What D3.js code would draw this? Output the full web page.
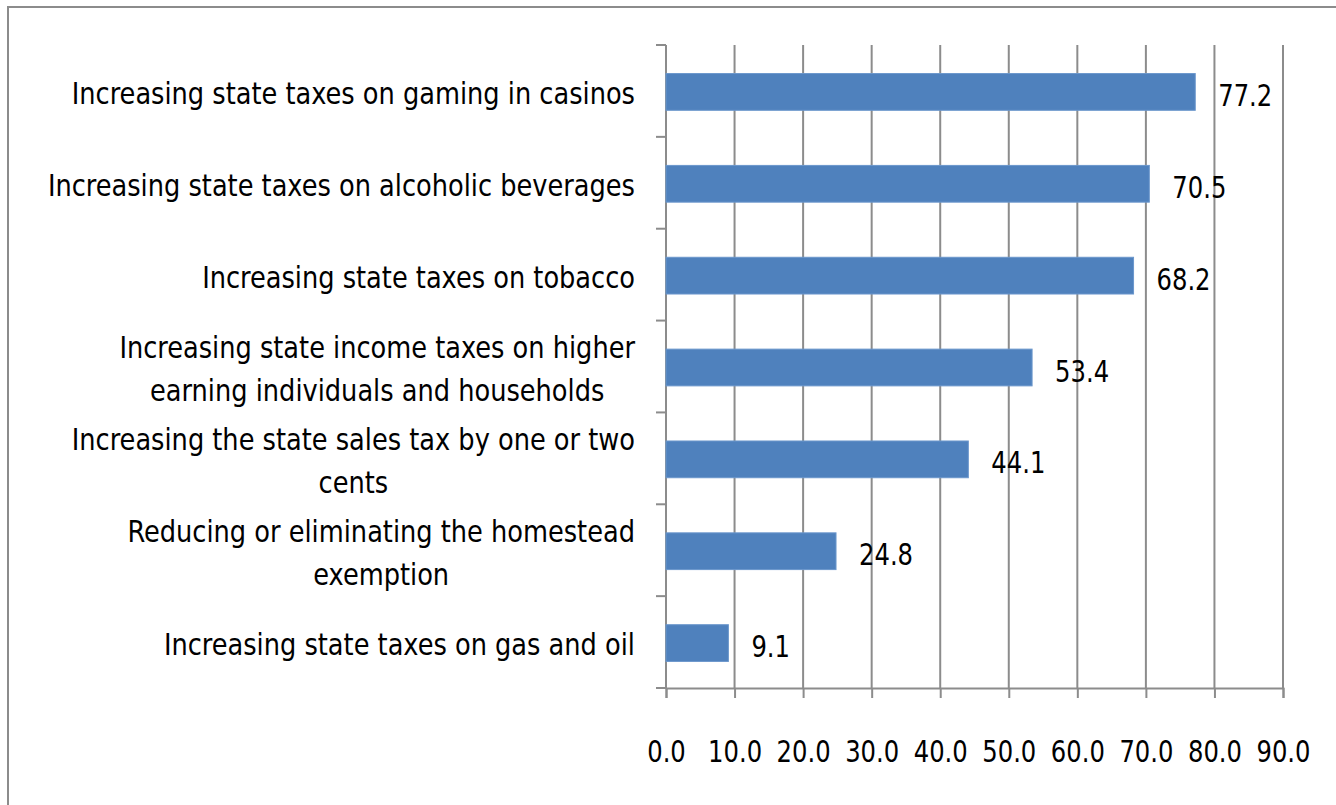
<!DOCTYPE html>
<html>
<head>
<meta charset="utf-8">
<script src="https://cdn.jsdelivr.net/npm/d3@7"></script>
<style>
  html, body { margin: 0; padding: 0; background: #fff; }
  svg { display: block; }
  text { font-family: 'Liberation Sans Narrow', 'DejaVu Sans Condensed', 'Arial Narrow', sans-serif; fill: #000; }
</style>
</head>
<body>
<svg id="chart" width="1336" height="805"></svg>
<script>
const categories = [
  "Increasing state taxes on gaming in casinos",
  "Increasing state taxes on alcoholic beverages",
  "Increasing state taxes on tobacco",
  "Increasing state income taxes on higher\nearning individuals and households",
  "Increasing the state sales tax by one or two\ncents",
  "Reducing or eliminating the homestead\nexemption",
  "Increasing state taxes on gas and oil"
];
const values = [77.2, 70.5, 68.2, 53.4, 44.1, 24.8, 9.1];
const tickValues = [0, 10, 20, 30, 40, 50, 60, 70, 80, 90];
const tickLabels = ["0.0", "10.0", "20.0", "30.0", "40.0", "50.0", "60.0", "70.0", "80.0", "90.0"];

const svg = d3.select("#chart");
const plotLeft = 666, plotRight = 1283, plotTop = 45, plotBottom = 688;
const gridColor = "#8c8c8c";
const fontSize = 31;
const fontFam = "'Liberation Sans Narrow', 'DejaVu Sans Condensed', sans-serif";

// condense text horizontally (reference font is narrow)
function condense(sel, k) {
  sel.each(function () {
    const w = this.getComputedTextLength();
    d3.select(this).attr("textLength", w * k).attr("lengthAdjust", "spacingAndGlyphs");
  });
}

// outer border
svg.append("rect")
  .attr("x", 8).attr("y", 7)
  .attr("width", 1400).attr("height", 900)
  .attr("fill", "none").attr("stroke", gridColor).attr("stroke-width", 2);

const x = d3.scaleLinear().domain([0, 90]).range([plotLeft, plotRight]);
const y = d3.scaleBand().domain(categories).range([plotTop, plotBottom])
  .paddingInner(0.6).paddingOuter(0.3);

// gridlines
svg.append("g").selectAll("line")
  .data(tickValues.filter(v => v > 0))
  .join("line")
  .attr("x1", d => x(d)).attr("x2", d => x(d))
  .attr("y1", plotTop).attr("y2", plotBottom)
  .attr("stroke", gridColor).attr("stroke-width", 2);

// x axis
const xAxis = d3.axisBottom(x).tickValues(tickValues)
  .tickFormat((d, i) => tickLabels[i]).tickSize(10).tickPadding(42);
const gx = svg.append("g").attr("transform", `translate(0,${plotBottom})`).call(xAxis);
gx.select(".domain").attr("stroke", gridColor).attr("stroke-width", 2);
gx.selectAll(".tick line").attr("stroke", gridColor).attr("stroke-width", 2);
gx.selectAll(".tick text").style("font-size", fontSize + "px")
  .style("font-family", fontFam).attr("fill", "#000")
  .call(condense, 0.87);

// y axis line + boundary ticks
svg.append("line")
  .attr("x1", plotLeft).attr("x2", plotLeft).attr("y1", plotTop).attr("y2", plotBottom)
  .attr("stroke", gridColor).attr("stroke-width", 2);
const step = y.step();
svg.append("g").selectAll("line")
  .data(d3.range(categories.length + 1))
  .join("line")
  .attr("x1", plotLeft - 10).attr("x2", plotLeft)
  .attr("y1", i => plotTop + i * step).attr("y2", i => plotTop + i * step)
  .attr("stroke", gridColor).attr("stroke-width", 2);

// bars
svg.append("g").selectAll("rect")
  .data(values)
  .join("rect")
  .attr("x", x(0))
  .attr("y", (d, i) => y(categories[i]) + 1)
  .attr("width", d => x(d) - x(0))
  .attr("height", y.bandwidth())
  .attr("fill", "#4f81bd")
  .attr("stroke", "#6b97cc").attr("stroke-width", 1);

// value labels
svg.append("g").selectAll("text")
  .data(values)
  .join("text")
  .attr("x", d => x(d) + 23)
  .attr("y", (d, i) => y(categories[i]) + y.bandwidth() / 2 + 15)
  .style("font-size", fontSize + "px")
  .text(d => d.toFixed(1))
  .call(condense, 0.87);

// category labels (wrapped, centered lines, block right-aligned)
const labelRight = 635;
const lineH = 43;
const catK = 0.92;
const catG = svg.append("g");
categories.forEach((c, i) => {
  const lines = c.split("\n");
  const cy = y(c) + y.bandwidth() / 2 + 1;
  const g = catG.append("g");
  const texts = g.selectAll("text").data(lines).join("text")
    .style("font-size", fontSize + "px")
    .attr("text-anchor", "middle")
    .attr("y", (d, j) => cy + (j - (lines.length - 1) / 2) * lineH + 12)
    .text(d => d);
  const widths = texts.nodes().map(n => n.getComputedTextLength() * catK);
  texts.call(condense, catK);
  const maxW = d3.max(widths);
  texts.attr("x", labelRight - maxW / 2);
});
</script>
</body>
</html>
